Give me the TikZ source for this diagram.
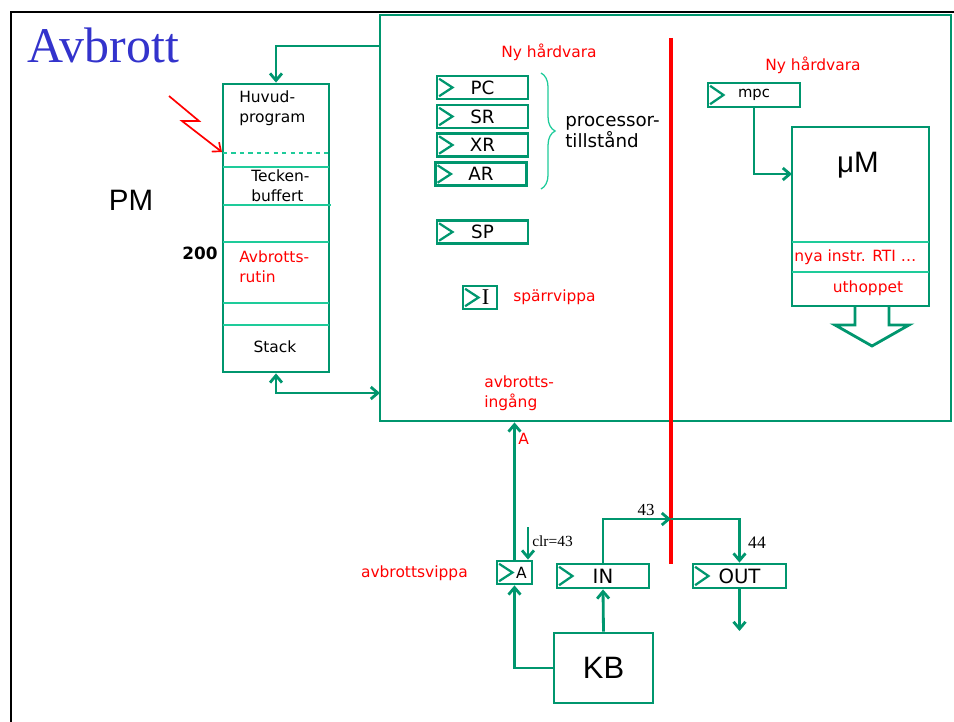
\documentclass[tikz,border=0pt]{standalone}
\usepackage{fontspec}
\setmainfont{DejaVu Sans}
\newfontfamily\arialf{Liberation Sans}
\newfontfamily\timesf{Liberation Serif}
\usetikzlibrary{arrows.meta, positioning, decorations.pathreplacing}
\definecolor{cpugreen}{HTML}{00966E}
\definecolor{linegreen}{HTML}{1ECB9A}
\definecolor{hwred}{HTML}{FF0000}
\definecolor{titleblue}{HTML}{3333CC}
\newdimen\pxu \pxu=0.025cm
\newcommand{\txtsmall}{\fontsize{11}{14}\selectfont}
\newcommand{\txtreg}{\fontsize{13}{15}\selectfont}

\tikzset{
  box/.style={draw=cpugreen, line width=2pt, inner sep=0pt},
  reg/.style={box, minimum width=92\pxu, minimum height=24\pxu, font=\txtreg,
    path picture={\draw[cpugreen, line width=1.6pt]
      ([xshift=1.5pt,yshift=-2pt]path picture bounding box.north west) --
      ([xshift=11pt]path picture bounding box.west) --
      ([xshift=1.5pt,yshift=2pt]path picture bounding box.south west);}},
  lbl/.style={font=\txtsmall, align=left, inner sep=0pt},
  hwlbl/.style={lbl, text=hwred},
  link/.style={draw=cpugreen, line width=2pt, ->},
  divider/.style={draw=linegreen, line width=0.9pt},
}

\begin{document}
\begin{tikzpicture}[x=0.025cm, y=-0.025cm, >={Straight Barb[length=5pt,width=8.5pt]}]
    \useasboundingbox (0,0) rectangle (954,722);

    % Frame and title
    \draw[black, line width=2pt] (11,722) -- (11,12) -- (954,12);
    \node[font=\timesf\fontsize{35.5}{38}\selectfont, text=titleblue, anchor=base west, inner sep=0pt] (title) at (27,63) {Avbrott};

    % Processor
    \node[box, minimum width=571\pxu, minimum height=406\pxu] (cpu) at (665.5,218) {};
    \draw[hwred, line width=2.2pt] (671,38) -- (671,564);

    % Primary memory
    \node[box, minimum width=106\pxu, minimum height=288\pxu] (pmbox) at (276,228) {};
    \draw[divider, dashed] (223,153) -- (329,153);
    \draw[divider, line width=1.5pt] (223,167) -- (329,167);
    \draw[divider, line width=1.5pt] (223,205) -- (331,205);
    \draw[divider] (223,242) -- (329,242);
    \draw[divider] (223,303) -- (329,303);
    \draw[divider] (223,325) -- (329,325);
    \node[lbl, anchor=west] (huvud) at (239,108) {Huvud-\\program};
    \node[lbl, anchor=west] (tecken) at (251,186) {Tecken-\\buffert};
    \node[hwlbl, anchor=west] (rutin) at (239,267) {Avbrotts-\\rutin};
    \node[lbl] (stack) at (275,347) {Stack};
    \node[font=\bfseries\fontsize{12}{14}\selectfont, anchor=east, inner sep=0pt] (adr) at (218,253) {200};
    \node[font=\arialf\fontsize{21}{24}\selectfont] (pmlbl) at (131,200) {PM};

    % Memory connections
    \coordinate (cpuin) at (380,46);
    \coordinate (cpuport) at (380,393);
    \coordinate (irqsrc) at (169,96);
    \coordinate (irqhit) at (222,152);
    \draw[link] (cpuin) -| (pmbox.north);
    \draw[link, <->] (pmbox.south) |- (cpuport);
    \draw[hwred, line width=1.2pt, ->] (irqsrc) -- (199,121) -- (182,121) -- (irqhit);

    % Registers
    \node[hwlbl] (nyhw) at (549,52) {Ny hårdvara};
    \node[reg, minimum width=91\pxu, minimum height=23\pxu] (pc) at (482.5,87.5) {PC};
    \node[reg, minimum width=91\pxu, minimum height=23\pxu] (sr) at (482.5,116.5) {SR};
    \node[reg, minimum width=91\pxu, minimum height=23\pxu] (xr) at (482.5,145) {XR};
    \node[reg, minimum width=91\pxu, minimum height=23\pxu] (ar) at (481,174) {AR};
    \node[reg, minimum width=91\pxu, minimum height=23\pxu] (sp) at (482.5,232) {SP};
    \draw[linegreen, line width=0.9pt, decorate, decoration={brace, amplitude=10pt}] (541,73) -- (541,189);
    \node[font=\txtreg, align=left, inner sep=0pt, anchor=west] (tillst) at (565,132) {processor-\\tillstånd};
    \node[reg, minimum width=34\pxu, minimum height=23\pxu, font=\timesf\fontsize{16}{18}\selectfont] (iff) at (480,297.5) {\hspace{8pt}I};
    \node[hwlbl, anchor=west] (sparr) at (513,297) {spärrvippa};
    \node[hwlbl, anchor=west] (ingang) at (484,393) {avbrotts-\\ingång};

    % Microprogram side
    \node[hwlbl] (nyhw2) at (813,65) {Ny hårdvara};
    \node[reg, font=\fontsize{10.5}{12}\selectfont] (mpc) at (754,95) {mpc};
    \node[box, minimum width=137\pxu, minimum height=179\pxu] (mm) at (860.5,216.5) {};
    \draw[divider] (792,242) -- (929,242);
    \draw[divider] (792,272) -- (929,272);
    \node[font=\arialf\fontsize{21}{24}\selectfont] (mmlbl) at (858,165) {μM};
    \node[hwlbl, anchor=west] (nyainstr) at (794,257) {nya instr. RTI …};
    \node[hwlbl] (uthopp) at (868,288) {uthoppet};
    \coordinate (mmin) at (792,174);
    \draw[link] (mpc.south) |- (mmin);
    \draw[cpugreen, line width=2pt, line join=miter] (855,306) -- (855,325) -- (835,325) -- (872,346) -- (909,325) -- (889,325) -- (889,306);

    % Keyboard interface
    \node[reg, minimum width=35\pxu, minimum height=23\pxu, font=\fontsize{11}{13}\selectfont] (aff) at (514.5,572.5) {\hspace{10pt}A};
    \node[hwlbl, anchor=east] (avbvippa) at (468,573) {avbrottsvippa};
    \node[reg, font=\fontsize{14}{16}\selectfont] (inreg) at (603,576) {IN};
    \node[reg, minimum width=93\pxu, font=\fontsize{14}{16}\selectfont] (outreg) at (739.5,576) {OUT};
    \node[box, minimum width=99\pxu, minimum height=70\pxu, font=\arialf\fontsize{22}{24}\selectfont] (kb) at (603.5,668) {KB};
    \draw[link] (aff.north) -- (aff.north |- cpu.south);
    \node[hwlbl, anchor=west] (alabel) at (518,439) {A};
    \coordinate (clrsrc) at (528,527);
    \draw[link] (clrsrc) -- (clrsrc |- aff.north);
    \node[font=\timesf\fontsize{11}{13}\selectfont, anchor=west, inner sep=0pt] (clr) at (532,541) {clr=43};
    \draw[link] (kb.north) -- (inreg.south);
    \draw[link] (kb.west) -| (aff.south);
    \coordinate (bus) at (671,519);
    \draw[link] (inreg.north) |- (bus);
    \draw[link] (bus) -| (outreg.north);
    \node[font=\timesf\fontsize{12}{14}\selectfont] (adr43) at (646,510) {43};
    \node[font=\timesf\fontsize{12.5}{14}\selectfont] (adr44) at (757,543) {44};
    \coordinate (outend) at (739.5,631);
    \draw[link] (outreg.south) -- (outend);
\end{tikzpicture}
\end{document}
